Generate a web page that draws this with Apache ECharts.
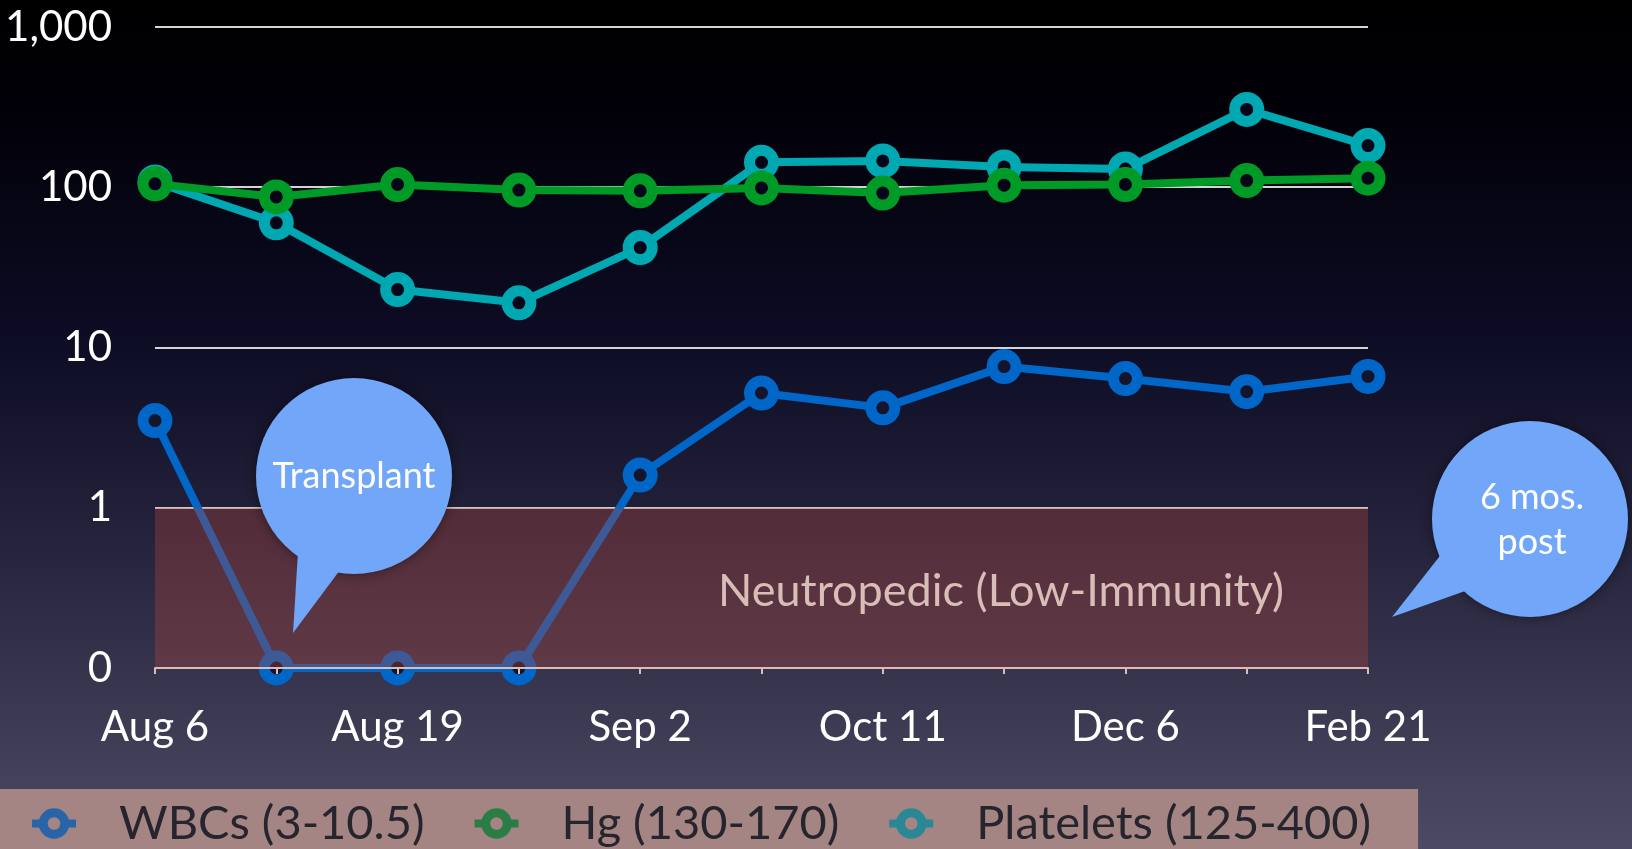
<!DOCTYPE html>
<html>
<head>
<meta charset="utf-8">
<title>Blood counts</title>
<script src="https://cdn.jsdelivr.net/npm/echarts@6/dist/echarts.min.js"></script>
<style>
    html, body { margin: 0; padding: 0; background: #000; }
    #chart { width: 1632px; height: 849px; }
</style>
</head>
<body>
<div id="chart"></div>
<script>
// data
var dates = ['Aug 6', '', 'Aug 19', '', 'Sep 2', '', 'Oct 11', '', 'Dec 6', '', 'Feb 21'];
var wbcs = [3.5, 0, 0, 0, 1.6, 5.2, 4.2, 7.6, 6.4, 5.3, 6.6];
var hg = [105, 87, 104, 96, 95, 99, 92, 103, 104, 110, 114];
var platelets = [108, 60, 23, 19, 42, 143, 146, 134, 130, 306, 182];
var seriesNames = ['WBCs (3-10.5)', 'Hg (130-170)', 'Platelets (125-400)'];
var yTicks = [0.1, 1, 10, 100, 1000];
// a zero can't sit on a log axis, it goes on the floor tick (labelled "0")
var FLOOR = 0.1;

var font = 'Lato';
var colors = ['#0066c8', '#009a26', '#00a8b2'];
var legendColors = ['#2a64a8', '#2a7d44', '#2a8896'];
var bubbleColor = '#71a6f8';

function ring(fill, border) {
    return {
        color: fill,
        borderColor: border,
        borderWidth: 11
    };
}

(function(){
    var myChart = echarts.init(document.getElementById('chart'));

    var option = {
        backgroundColor: {
            type: 'linear', x: 0, y: 0, x2: 0, y2: 1,
            colorStops: [
                {offset: 0, color: '#000000'},
                {offset: 0.12, color: '#010007'},
                {offset: 0.4, color: '#0d0c25'},
                {offset: 0.65, color: '#26253d'},
                {offset: 1, color: '#4c4b63'}
            ]
        },
        animation: false,
        grid: {
            left: 155,
            right: 264,
            top: 27,
            bottom: 181
        },
        xAxis: {
            type: 'category',
            boundaryGap: false,
            data: dates,
            z: 10,
            axisLine: {lineStyle: {color: '#dcbcb4', width: 2}},
            axisTick: {interval: 0, length: 6, lineStyle: {color: '#dcbcb4', width: 2}},
            axisLabel: {
                interval: 0,
                color: '#fff',
                fontSize: 42,
                fontFamily: font,
                margin: 38
            }
        },
        yAxis: {
            type: 'log',
            logBase: 10,
            min: yTicks[0],
            max: yTicks[yTicks.length - 1],
            axisLine: {show: false},
            axisTick: {show: false},
            splitLine: {lineStyle: {color: '#d4d4d4', width: 2}},
            axisLabel: {
                color: '#fff',
                fontSize: 42,
                fontFamily: font,
                margin: 43,
                formatter: function (v) {
                    return v < 0.5 ? '0' : v.toLocaleString('en-US');
                }
            }
        },
        legend: {
            left: 0,
            top: 789,
            selectedMode: false,
            backgroundColor: '#a58583',
            padding: [11, 47, 4, 28],
            itemGap: 46,
            itemWidth: 44,
            itemHeight: 27,
            textStyle: {
                color: '#26252e',
                fontSize: 47,
                fontFamily: font,
                padding: [0, 0, 0, 38]
            },
            data: seriesNames.map(function (n, i) {
                return {
                    name: n,
                    itemStyle: {color: '#a58583', borderColor: legendColors[i], borderWidth: 9},
                    lineStyle: {color: legendColors[i], width: 8}
                };
            })
        },
        series: [
            {
                name: seriesNames[0],
                type: 'line',
                data: wbcs.map(function (v) { return v === 0 ? FLOOR : v; }),
                symbol: 'circle',
                symbolSize: 24,
                lineStyle: {color: colors[0], width: 8},
                itemStyle: ring('#15142d', colors[0])
            },
            {
                name: seriesNames[2],
                type: 'line',
                data: platelets,
                symbol: 'circle',
                symbolSize: 24,
                lineStyle: {color: colors[2], width: 8},
                itemStyle: ring('#05051a', colors[2])
            },
            {
                name: seriesNames[1],
                type: 'line',
                data: hg,
                symbol: 'circle',
                symbolSize: 24,
                lineStyle: {color: colors[1], width: 8},
                itemStyle: ring('#05051a', colors[1])
            },
            {
                // the neutropenic band sits on top of the WBC line
                name: 'band',
                type: 'line',
                data: [],
                markArea: {
                    silent: true,
                    z: 6,
                    itemStyle: {color: 'rgba(175,70,60,0.35)'},
                    label: {
                        position: 'insideRight',
                        distance: 84,
                        offset: [0, 4],
                        color: '#d9bdb7',
                        fontSize: 45,
                        fontFamily: font
                    },
                    data: [[
                        {name: 'Neutropedic (Low-Immunity)', xAxis: 0, yAxis: FLOOR},
                        {xAxis: dates.length - 1, yAxis: 1}
                    ]]
                }
            }
        ],
        // speech bubbles
        graphic: [
            {type: 'circle', z: 100, shape: {cx: 354, cy: 476, r: 98},
                style: {fill: bubbleColor, shadowBlur: 12, shadowColor: 'rgba(0,0,0,0.45)'}},
            {type: 'polygon', z: 101, shape: {points: [[298, 552], [293, 633], [340, 570]]},
                style: {fill: bubbleColor}},
            {type: 'text', z: 102, x: 354, y: 476,
                style: {text: 'Transplant', fill: '#fff', font: '36px Lato', align: 'center', verticalAlign: 'middle'}},
            {type: 'circle', z: 100, shape: {cx: 1530, cy: 519, r: 98},
                style: {fill: bubbleColor, shadowBlur: 12, shadowColor: 'rgba(0,0,0,0.45)'}},
            {type: 'polygon', z: 101, shape: {points: [[1443, 552], [1392, 617], [1468, 590]]},
                style: {fill: bubbleColor}},
            {type: 'text', z: 102, x: 1532, y: 520,
                style: {text: '6 mos.\npost', fill: '#fff', font: '36px Lato', lineHeight: 45, align: 'center', verticalAlign: 'middle'}}
        ]
    };

    myChart.setOption(option);
})();
</script>
</body>
</html>
